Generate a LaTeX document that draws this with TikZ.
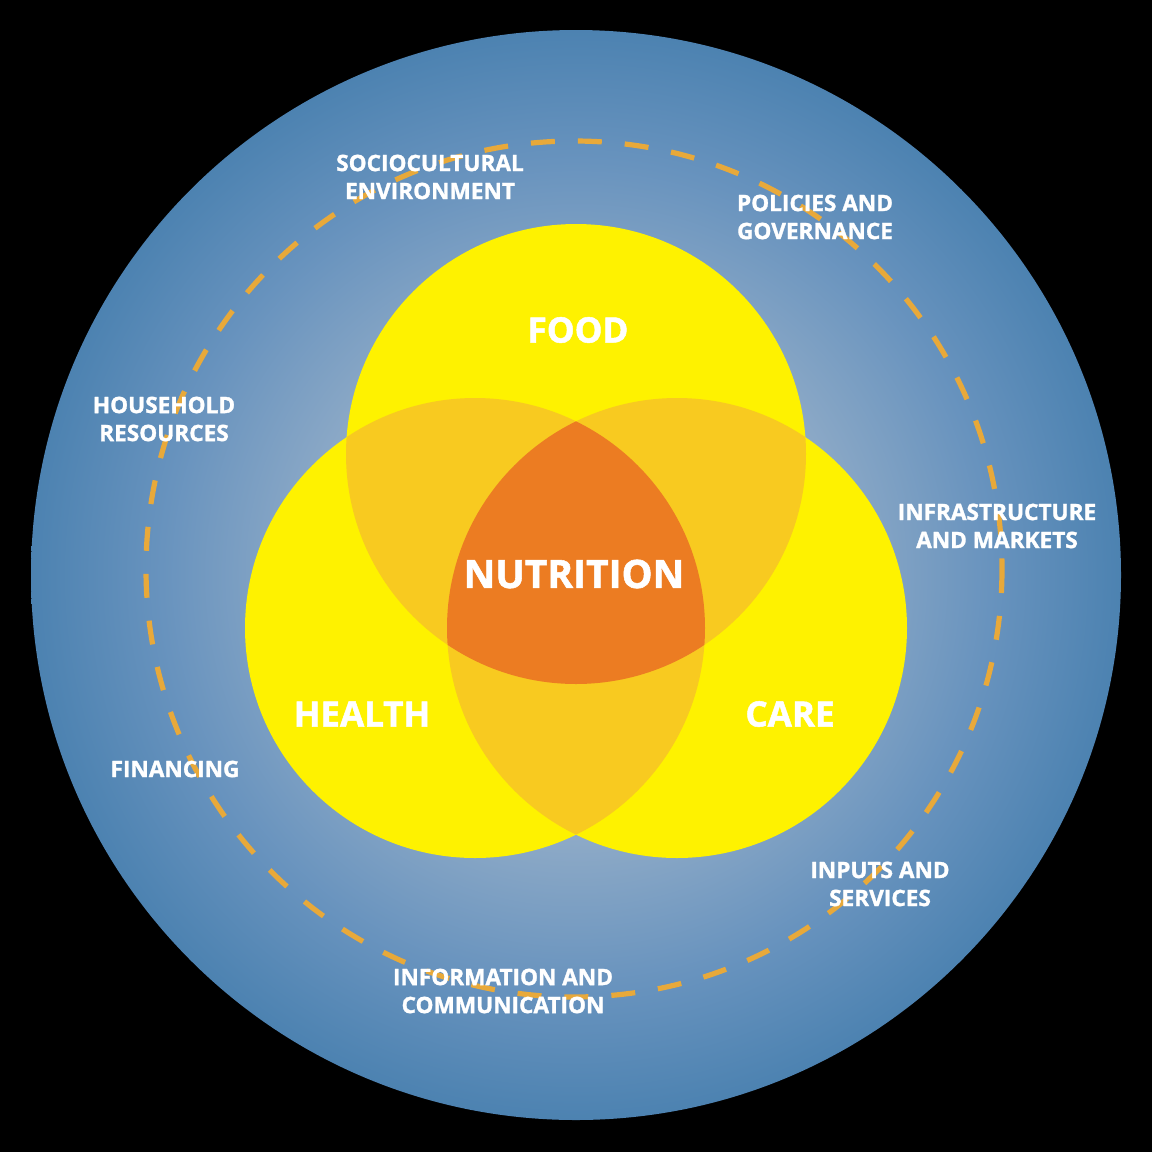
\documentclass[tikz,border=0pt]{standalone}
\usepackage{fontspec}
\setmainfont{Open Sans}[BoldFeatures={FakeBold=1.4}]
\definecolor{bin}{HTML}{A3B7CC}
\definecolor{bmid}{HTML}{6893BE}
\definecolor{bout}{HTML}{3A77A8}
\definecolor{yel}{HTML}{FEF200}
\definecolor{gold}{HTML}{F8CA20}
\definecolor{orng}{HTML}{EC7C22}
\definecolor{dashc}{HTML}{E8A93A}
\pgfdeclareradialshading{bluegrad}{\pgfpoint{0bp}{0bp}}{color(0bp)=(bin); color(8bp)=(bin); color(19bp)=(bmid); color(29bp)=(bout); color(50bp)=(bout)}
\begin{document}
\begin{tikzpicture}[x=0.5pt,y=-0.5pt,
  lab/.style={text=white,font=\bfseries\fontsize{11.3}{14}\selectfont,align=center,inner sep=0pt},
  big/.style={text=white,font=\bfseries\fontsize{17.5}{20}\selectfont,inner sep=0pt},
  ring/.style={draw=dashc,line width=2.6pt,dash pattern=on 12pt off 11.5pt}]
\useasboundingbox (0,0) rectangle (1152,1152);
\fill[black] (0,0) rectangle (1152,1152);
\shade[shading=bluegrad] (576,575) circle (545);
\draw[ring] (574,569) circle (428);
\coordinate (F) at (576,454);
\coordinate (H) at (475,628);
\coordinate (C) at (677,628);
\fill[yel] (F) circle (230);
\fill[yel] (H) circle (230);
\fill[yel] (C) circle (230);
\begin{scope}
  \clip (F) circle (230);
  \fill[gold] (H) circle (230);
  \fill[gold] (C) circle (230);
\end{scope}
\begin{scope}
  \clip (H) circle (230);
  \fill[gold] (C) circle (230);
\end{scope}
\begin{scope}
  \clip (F) circle (230);
  \clip (H) circle (230);
  \fill[orng] (C) circle (230);
\end{scope}
\node[big] (food) at (578,330) {FOOD};
\node[big,font=\bfseries\fontsize{19.5}{24}\selectfont] (nut) at (574,574) {NUTRITION};
\node[big] (health) at (362,714) {HEALTH};
\node[big] (care) at (790,714) {CARE};
\node[lab] (socio) at (430,177) {SOCIOCULTURAL\\ENVIRONMENT};
\node[lab] (policy) at (815,217) {POLICIES AND\\GOVERNANCE};
\node[lab] (house) at (164,419) {HOUSEHOLD\\RESOURCES};
\node[lab] (infra) at (997,526) {INFRASTRUCTURE\\AND MARKETS};
\node[lab] (fin) at (175,769) {FINANCING};
\node[lab] (inputs) at (880,884) {INPUTS AND\\SERVICES};
\node[lab] (info) at (503,991) {INFORMATION AND\\COMMUNICATION};
\end{tikzpicture}
\end{document}
